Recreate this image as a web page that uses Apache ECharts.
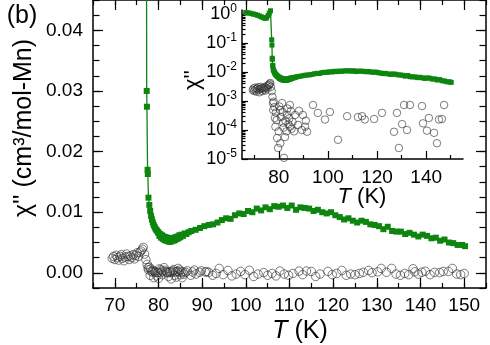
<!DOCTYPE html>
<html><head><meta charset="utf-8">
<script src="https://cdn.jsdelivr.net/npm/echarts@6/dist/echarts.min.js"></script>
<style>html,body{margin:0;padding:0;background:#fff}#c{width:490px;height:345px}</style>
</head><body><div id="c"></div>
<script>
// ---- data (T in K, chi'' in cm3/mol-Mn) ----
const greenT = [66.5,67.3,68.1,68.9,69.7,70.5,71.3,72.1,72.9,73.7,74.4,75.0,75.6,76.1,76.6,
  77.1,77.2,77.3,77.35,77.5,77.55,77.7,77.9,78.1,78.3,78.5,78.7,78.9,79.1,79.3,79.5,79.7,79.9,
  80.0,80.2,80.4,80.6,80.8,81.0,81.2,81.4,81.6,81.8,82.0,82.2,82.4,82.6,82.8,83.0,83.2,83.4,83.6,83.8,
  84.0,84.2,84.4,84.6,84.8,85.0,85.3,85.6,86.0,86.4,86.9,
  87.5,88.5,89.5,90.5,91.5,92.5,93.5,94.5,95.5,96.5,97.5,98.5,99.5,100.5,101.5,102.5,103.5,104.5,
  105.5,106.5,107.5,108.5,109.5,110.5,111.5,112.5,113.5,114.5,115.5,116.5,117.5,118.5,119.5,120.5,
  121.5,122.5,123.5,124.5,125.5,126.5,127.5,128.5,129.5,130.5,131.5,132.5,133.5,134.5,135.5,136.5,
  137.5,138.5,139.5,140.5,141.5,142.5,143.5,144.5,145.5,146.5,147.5,148.5,149.5,150.2];
const greenV = [1.12,1.10,1.08,1.03,1.00,0.96,0.91,0.86,0.80,0.75,0.71,0.74,0.88,1.08,1.30,
  0.13,0.085,0.0300,0.0274,0.0170,0.0163,0.0124,0.0112,0.0102,0.0094,0.0088,0.0083,0.0079,0.0076,0.0073,0.0071,0.0069,0.0067,
  0.0066,0.0061,0.0064,0.0058,0.0062,0.0056,0.0060,0.0054,0.0059,0.0053,0.0058,0.0052,0.0057,0.0051,0.0056,0.0052,0.0057,0.0053,0.0058,0.0054,
  0.0059,0.0056,0.0060,0.0057,0.0062,0.0059,0.0063,0.0061,0.0065,0.0064,0.0067,
  0.0069,0.0071,0.0074,0.0077,0.0079,0.0080,0.0083,0.0087,0.0090,0.0089,0.0095,0.0098,0.0097,0.0102,0.0100,0.0106,0.0103,0.0108,
  0.0105,0.0110,0.0109,0.0111,0.0107,0.0111,0.0104,0.0108,0.0107,0.0106,0.0102,0.0104,0.0100,0.0098,0.0100,0.0095,
  0.0092,0.0088,0.0090,0.0086,0.0083,0.0086,0.0084,0.0080,0.0079,0.0077,0.0072,0.0076,0.0069,0.0068,0.0068,0.0064,
  0.0066,0.0063,0.0060,0.0063,0.0061,0.0057,0.0058,0.0053,0.0055,0.0050,0.0049,0.0046,0.0046,0.0044];

const circT = [69.4,69.7,70.0,70.3,70.6,70.9,71.2,71.5,71.8,72.1,72.4,72.7,73.0,73.3,73.6,73.9,74.2,74.5,74.8,75.1,75.4,75.7,76.0,76.3,76.5,76.8,77.1,77.4,
  77.6,77.7,77.9,78.1,78.2,78.4,78.6,78.8,78.9,79.1,79.3,79.6,79.7,79.9,80.0,80.2,80.5,80.6,80.8,80.9,81.3,81.5,81.7,81.9,82.1,82.3,82.5,82.7,82.9,
  83.1,83.3,83.5,83.7,83.9,84.1,84.3,84.5,84.6,84.9,85.0,85.2,85.4,85.6,85.8,86.2,
  86.6,87.4,87.8,88.2,88.6,89.4,89.8,90.7,91.0,91.5,92.4,93.2,93.9,94.8,95.9,96.8,97.8,98.8,99.8,100.8,101.8,102.8,104.1,105.0,106.0,106.9,107.8,
  108.8,109.8,110.8,112.2,113.0,113.9,115.0,116.0,117.0,118.8,119.8,120.8,122.0,123.0,124.0,125.0,126.0,126.9,128.1,128.9,130.2,131.0,
  132.2,133.4,134.4,135.4,136.4,137.3,138.3,138.7,139.5,140.3,141.1,142.2,143.2,144.4,145.2,146.4,147.3,148.3,149.2,150.0];
const circV = [0.0024,0.0027,0.0022,0.0029,0.0025,0.0021,0.0027,0.0030,0.0024,0.0020,0.0026,0.0031,0.0027,0.0022,0.0028,0.0025,0.0030,0.0023,0.0029,0.0033,0.0027,0.0034,0.0036,0.0039,0.0042,0.0031,0.0022,0.0014,
  0.00085,0.00049,0.00095,-0.0004,0.00062,0.00026,0.00013,0.00040,-0.0008,0.00022,0.000053,-0.0005,0.000024,0.00009,-0.0009,0.00065,0.00049,0.000035,0.00028,-0.0003,0.00085,0.00042,0.00018,0.00012,0.000011,-0.0006,0.000057,0.00021,-0.0010,
  0.00009,0.00033,0.00055,-0.0004,0.00016,-0.0007,0.00025,0.00073,0.00013,0.00045,-0.0003,0.00011,-0.0008,0.00019,-0.0002,0.00009,
  0.00033,-0.0004,0.00015,0.00046,-0.0002,0.0001,0.00033,0.00013,0.00021,0.000087,-0.0004,-0.0001,0.00073,-0.0003,0.00039,-0.0005,-0.0002,0.00023,-0.0003,0.00042,-0.0006,-0.0002,0.000046,-0.0004,-0.0001,-0.0005,0.00030,
  -0.0002,-0.0004,-0.0001,0.00028,-0.0003,0.00030,0.00023,-0.0006,-0.0002,0.00024,-0.0003,-0.0001,0.00039,-0.0004,-0.0002,-0.0003,-0.0001,0.000087,0.00039,0.000024,0.00016,0.00073,
  0.00010,0.00073,-0.0002,-0.0004,-0.0001,-0.0003,0.00067,0.00017,-0.0002,0.000095,0.00026,-0.0003,0.00008,0.000035,0.00023,0.00024,0.00073,-0.0002,-0.0003,-0.0001];

const mainXTicks = [70,80,90,100,110,120,130,140,150];
const mainYTicks = [0,0.01,0.02,0.03,0.04];
const insetXTicks = [80,100,120,140];
const insetXMinor = [70,90,110,130,150];
const insetYExps = [-5,-4,-3,-2,-1,0];

// ---- build ----
const FONT = "'Liberation Sans', Arial, sans-serif";
const GREEN = '#0e850e';
const greenData = greenT.map((t,i)=>[t, greenV[i]]);
const circData = circT.map((t,i)=>[t, circV[i]]);
const insetGreen = greenData.filter(d=>d[1]>0);
const insetCirc = circData.filter(d=>d[1]>0);
const logMinor = [];
insetYExps.forEach(n=>{ for(let k=2;k<=9;k++){ const v=n+Math.log10(k); if(v<0.14) logMinor.push(v);} });
const LOGMAX = 0.14;

const line = {show:true, onZero:false, lineStyle:{color:'#000', width:1.5}};
const noLine = {show:false, onZero:false};
function tick(len, vals){ const t={show:true, inside:true, length:len, lineStyle:{color:'#000', width:1.2}}; if(vals) t.customValues=vals; return t; }
function ax(o){ return Object.assign({type:'value', axisLine:noLine, axisTick:{show:false}, axisLabel:{show:false}, splitLine:{show:false}}, o); }
const lab = (vals, extra)=>Object.assign({show:true, customValues:vals, color:'#000', fontSize:19, fontFamily:FONT}, extra||{});

const option = {
  animation:false,
  backgroundColor:'#fff',
  grid:[{left:93, right:4, top:-3, bottom:57, containLabel:false},
        {left:242, top:10, width:221, height:149, containLabel:false}],
  xAxis:[
    ax({gridIndex:0, position:'bottom', min:65, max:155, axisLine:line, axisTick:tick(10, mainXTicks), axisLabel:lab(mainXTicks,{margin:8})}),
    ax({gridIndex:0, position:'bottom', min:65, max:155, interval:5, axisTick:tick(5)}),
    ax({gridIndex:0, position:'top', min:65, max:155, axisLine:line, axisTick:tick(10, mainXTicks)}),
    ax({gridIndex:0, position:'top', min:65, max:155, interval:5, axisTick:tick(5)}),
    ax({gridIndex:1, position:'bottom', min:65, max:155, axisLine:line, axisTick:tick(8, insetXTicks), axisLabel:lab(insetXTicks,{margin:9})}),
    ax({gridIndex:1, position:'bottom', min:65, max:155, axisTick:tick(4, insetXMinor)})
  ],
  yAxis:[
    ax({gridIndex:0, position:'left', min:-0.0025, max:0.045, axisLine:line, axisTick:tick(10, mainYTicks), axisLabel:lab(mainYTicks,{margin:10, formatter:v=>Number(v).toFixed(2)})}),
    ax({gridIndex:0, position:'left', min:-0.0025, max:0.045, interval:0.0025, axisTick:tick(6.5)}),
    ax({gridIndex:0, position:'right', min:-0.0025, max:0.045, axisLine:line, axisTick:tick(10, mainYTicks)}),
    ax({gridIndex:0, position:'right', min:-0.0025, max:0.045, interval:0.0025, axisTick:tick(6.5)}),
    ax({gridIndex:1, position:'left', min:-5, max:LOGMAX, axisLine:line, axisTick:tick(6, insetYExps),
        axisLabel:lab(insetYExps,{margin:5, formatter:v=>'{b|10}{s|'+Math.round(v)+'}',
          rich:{b:{fontSize:18, fontFamily:FONT, color:'#000', lineHeight:22}, s:{fontSize:12, fontFamily:FONT, color:'#000', lineHeight:12, verticalAlign:'top'}}})}),
    ax({gridIndex:1, position:'left', min:-5, max:LOGMAX, axisTick:tick(3.5, logMinor)}),
    {type:'log', gridIndex:1, logBase:10, min:1e-5, max:Math.pow(10, LOGMAX), show:false, splitLine:{show:false}}
  ],
  series:[
    {type:'scatter', xAxisIndex:0, yAxisIndex:0, data:circData, symbol:'circle', symbolSize:8.5, silent:true,
     itemStyle:{color:'rgba(0,0,0,0)', borderColor:'#333', borderWidth:0.8}},
    {type:'line', xAxisIndex:0, yAxisIndex:0, data:greenData, symbol:'rect', symbolSize:6, silent:true, clip:true,
     lineStyle:{color:GREEN, width:1.3}, itemStyle:{color:GREEN}},
    {type:'scatter', xAxisIndex:4, yAxisIndex:6, data:insetCirc, symbol:'circle', symbolSize:7.5, silent:true,
     itemStyle:{color:'rgba(0,0,0,0)', borderColor:'#333', borderWidth:0.8}},
    {type:'line', xAxisIndex:4, yAxisIndex:6, data:insetGreen, symbol:'rect', symbolSize:5, silent:true, clip:true,
     lineStyle:{color:GREEN, width:1.3}, itemStyle:{color:GREEN}}
  ],
  graphic:[
    {type:'text', x:22, y:16, style:{text:'(b)', fontSize:25, fontFamily:FONT, fill:'#000', align:'center', verticalAlign:'middle'}},
    {type:'text', x:24, y:128, rotation:Math.PI/2, style:{text:"\u03c7'' (cm\u00b3/mol-Mn)", fontSize:25, fontFamily:FONT, fill:'#000', align:'center', verticalAlign:'middle'}},
    {type:'text', x:300, y:331, style:{text:'{i|T} (K)', fontSize:25, fontFamily:FONT, fill:'#000', align:'center', verticalAlign:'middle',
      rich:{i:{fontSize:25, fontFamily:FONT, fontStyle:'italic', fill:'#000'}}}},
    {type:'text', x:362, y:197, style:{text:'{i|T} (K)', fontSize:22, fontFamily:FONT, fill:'#000', align:'center', verticalAlign:'middle',
      rich:{i:{fontSize:22, fontFamily:FONT, fontStyle:'italic', fill:'#000'}}}},
    {type:'text', x:193, y:80, rotation:Math.PI/2, style:{text:"\u03c7''", fontSize:22, fontFamily:FONT, fill:'#000', align:'center', verticalAlign:'middle'}}
  ]
};
const chart = echarts.init(document.getElementById('c'), null, {renderer:'canvas'});
chart.setOption(option);
</script></body></html>
